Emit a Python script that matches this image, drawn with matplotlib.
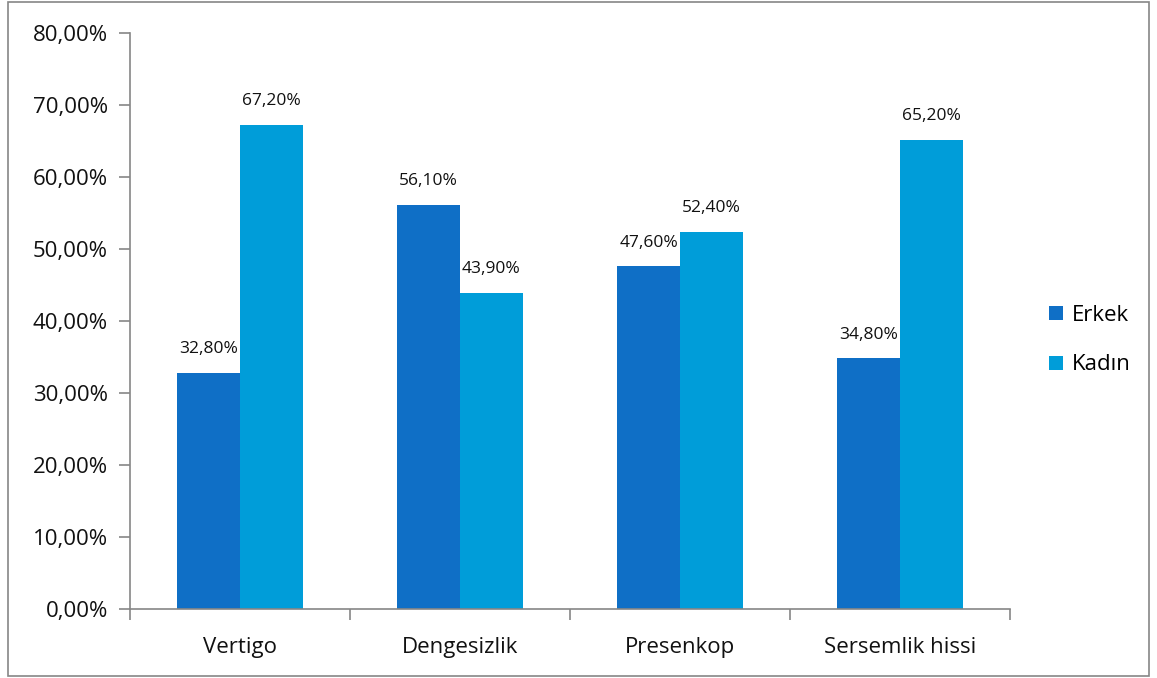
import numpy as np
import matplotlib.pyplot as plt
from matplotlib.patches import Rectangle
from matplotlib.ticker import FixedLocator, FuncFormatter

categories = ['Vertigo', 'Dengesizlik', 'Presenkop', 'Sersemlik hissi']
erkek = [32.8, 56.1, 47.6, 34.8]
kadin = [67.2, 43.9, 52.4, 65.2]
series_names = ['Erkek', 'Kadın']
colors = ['#0F6FC6', '#009DD9']

plt.rcParams['font.family'] = ['Open Sans', 'DejaVu Sans']

fig = plt.figure(figsize=(11.57, 6.78), dpi=100)
ax = fig.add_axes([130 / 1157, 1 - 609 / 678, 880 / 1157, 576 / 678])

x = np.arange(len(categories))
w = 0.285
b1 = ax.bar(x - w / 2, erkek, w, color=colors[0], label=series_names[0])
b2 = ax.bar(x + w / 2, kadin, w, color=colors[1], label=series_names[1])

def pct(v):
    return ('%.2f%%' % v).replace('.', ',')

for bars, vals in ((b1, erkek), (b2, kadin)):
    for r, v in zip(bars, vals):
        ax.text(r.get_x() + r.get_width() / 2, v + 3.3, pct(v),
                ha='center', va='center', fontsize=12.5, color='#111111')

ax.set_xlim(-0.5, len(categories) - 0.5)
ax.set_ylim(0, 80)
ax.set_yticks(np.arange(0, 81, 10))
ax.yaxis.set_major_formatter(FuncFormatter(lambda v, p: pct(v)))
ax.set_xticks(x)
ax.set_xticklabels(categories, fontsize=16, color='#111111')
ax.xaxis.set_minor_locator(FixedLocator(np.arange(-0.5, len(categories), 1)))
ax.tick_params(axis='x', which='major', length=0, pad=20)
ax.tick_params(axis='x', which='minor', length=8, color='#868686', width=1.2)
ax.tick_params(axis='y', length=8, color='#868686', width=1.2, labelsize=16,
               labelcolor='#111111', pad=8)

for s in ['top', 'right']:
    ax.spines[s].set_visible(False)
for s in ['left', 'bottom']:
    ax.spines[s].set_color('#868686')
    ax.spines[s].set_linewidth(1.2)

ax.legend(loc='center left', bbox_to_anchor=(1.022, 0.467), frameon=False,
          fontsize=16, handlelength=0.6, handleheight=0.6, handletextpad=0.4,
          labelspacing=1.3)

fig.patches.append(Rectangle((8 / 1157, 2 / 678), 1141 / 1157, 674 / 678,
                             transform=fig.transFigure, fill=False,
                             edgecolor='#868686', linewidth=1.2))

fig.savefig('out.png', dpi=100)
